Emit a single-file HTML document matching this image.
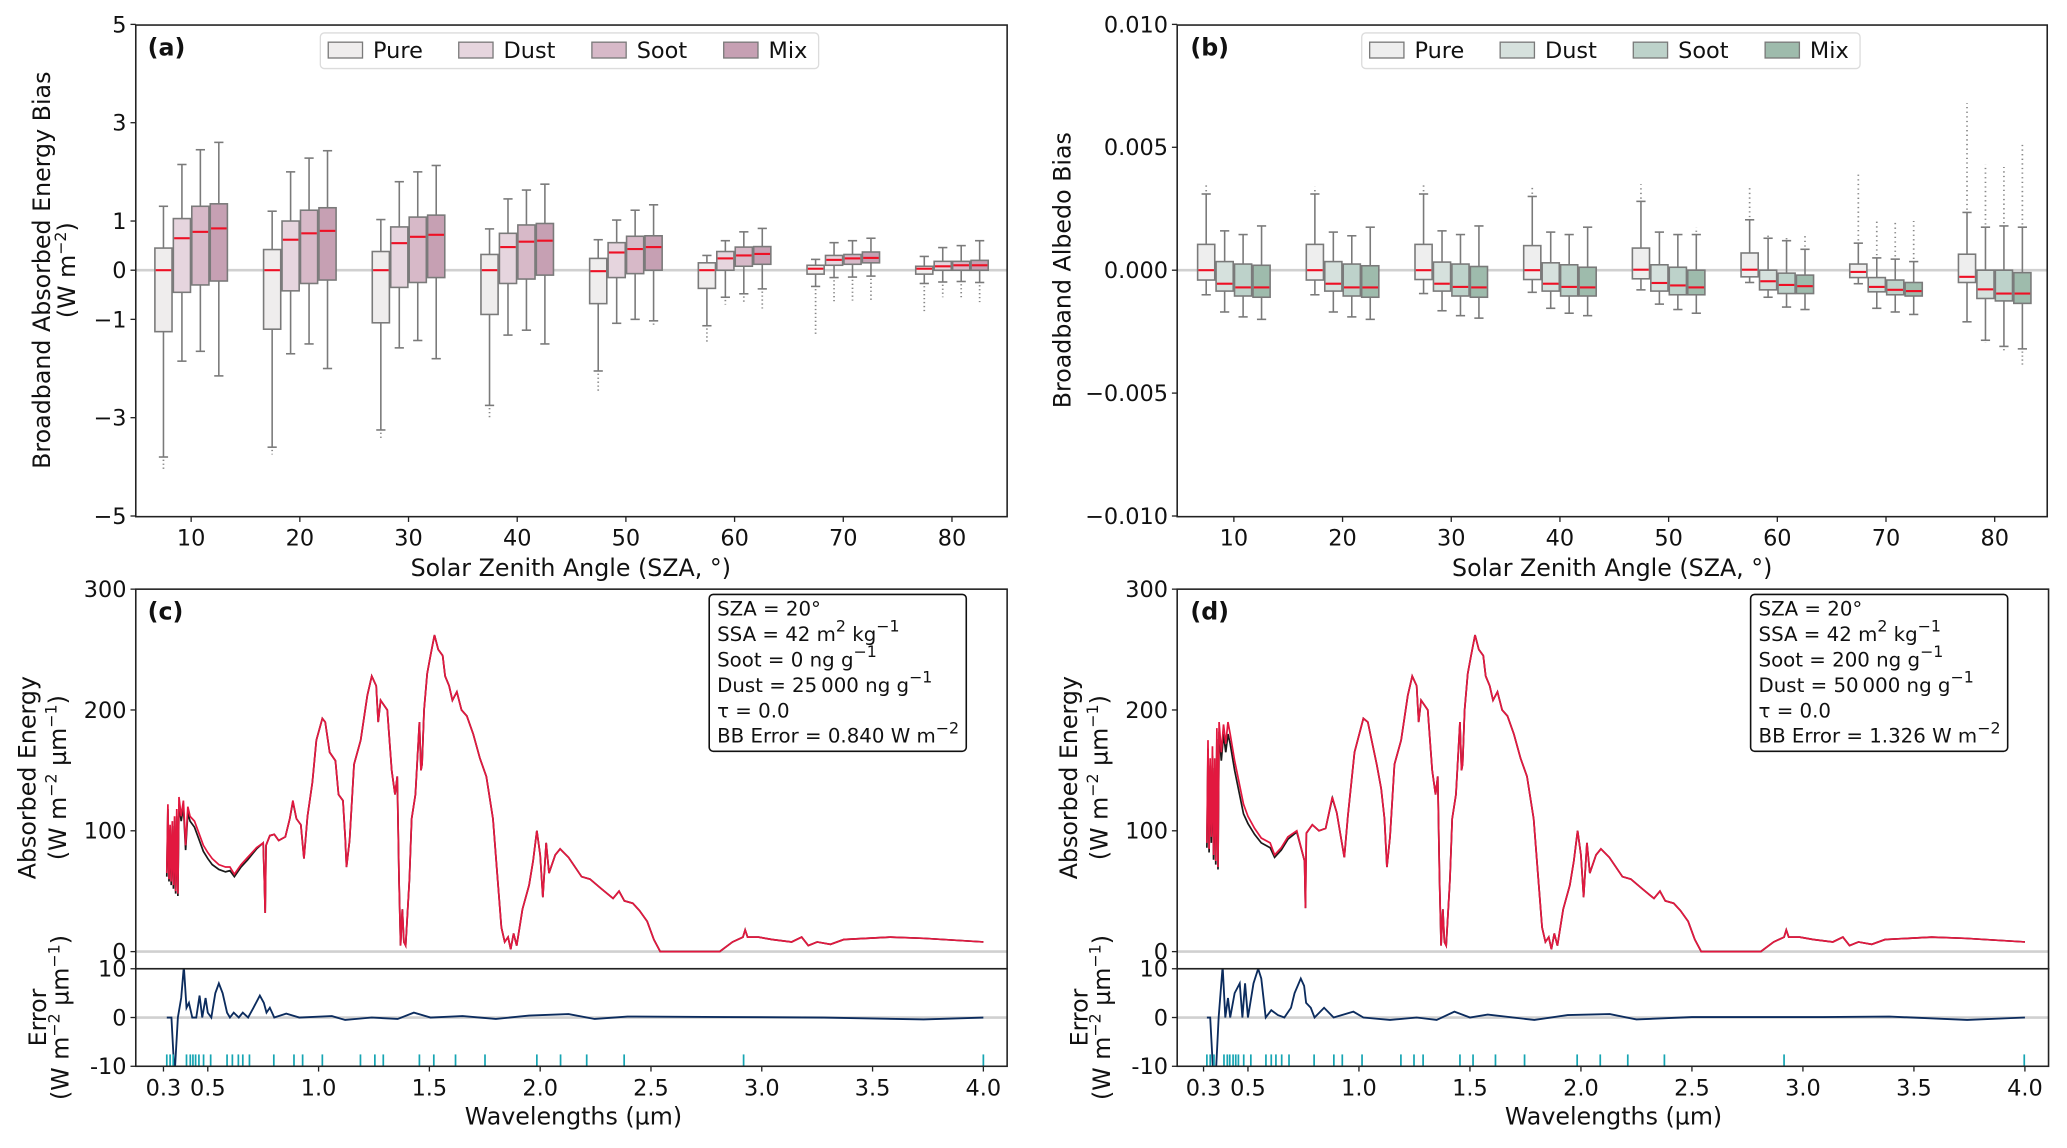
<!DOCTYPE html>
<html><head><meta charset="utf-8"><style>
html,body{margin:0;padding:0;background:#fff;}
svg{display:block;font-family:"DejaVu Sans","Liberation Sans",sans-serif;}
</style></head><body>
<svg id="fig" width="2067" height="1148" viewBox="0 0 1568 871" preserveAspectRatio="none" xmlns="http://www.w3.org/2000/svg">
<rect x="0" y="0" width="1568" height="871" fill="#fff"/>
<defs>
<clipPath id="clipC"><rect x="103" y="735" width="661" height="74"/></clipPath>
<clipPath id="clipD"><rect x="893" y="735" width="660" height="74"/></clipPath>
</defs>
</svg>
<script>
// ---------- Panel (a) data: [whiskerLow, q1, median, q3, whiskerHigh] ----------
const szaCats = [10,20,30,40,50,60,70,80];
const seriesNames = ["Pure","Dust","Soot","Mix"];
const aPure = [[-3.8,-1.25,0,0.45,1.3],[-3.6,-1.2,0,0.42,1.2],[-3.25,-1.07,0,0.38,1.03],[-2.75,-0.9,0,0.32,0.84],[-2.05,-0.68,-0.02,0.24,0.62],[-1.13,-0.37,0,0.15,0.3],[-0.33,-0.08,0.03,0.1,0.22],[-0.27,-0.08,0.03,0.08,0.28]];
const aDust = [[-1.85,-0.45,0.65,1.05,2.15],[-1.7,-0.42,0.62,1.0,2.0],[-1.58,-0.35,0.55,0.88,1.8],[-1.32,-0.27,0.47,0.75,1.45],[-1.08,-0.15,0.36,0.56,1.02],[-0.55,0.0,0.24,0.38,0.6],[-0.15,0.1,0.21,0.3,0.56],[-0.24,0.0,0.08,0.18,0.46]];
const aSoot = [[-1.65,-0.3,0.78,1.3,2.45],[-1.5,-0.27,0.75,1.22,2.28],[-1.43,-0.25,0.68,1.08,2.0],[-1.22,-0.18,0.58,0.92,1.63],[-1.0,-0.07,0.43,0.69,1.22],[-0.48,0.08,0.3,0.47,0.78],[-0.14,0.12,0.24,0.32,0.6],[-0.23,0.0,0.1,0.18,0.5]];
const aMix = [[-2.15,-0.22,0.85,1.35,2.6],[-2.0,-0.2,0.8,1.27,2.43],[-1.8,-0.15,0.72,1.12,2.13],[-1.5,-0.1,0.6,0.95,1.75],[-1.03,0.0,0.47,0.7,1.33],[-0.38,0.12,0.33,0.48,0.85],[-0.12,0.15,0.25,0.37,0.65],[-0.25,0.0,0.1,0.2,0.6]];
const aFlierLo = [[-4.05,null,null,null],[-3.75,null,null,null],[-3.45,null,null,null],[-3.0,null,null,null],[-2.5,null,null,-1.15],[-1.5,-0.7,-0.65,-0.78],[-1.3,-0.65,-0.62,-0.65],[-0.85,-0.55,-0.55,-0.65]];
const aFlierHi = [[null,null,null,null],[null,null,null,null],[null,null,null,null],[null,null,null,null],[null,null,null,null],[null,null,null,null],[null,null,null,null],[null,null,null,null]];
const aTicks = [5,3,1,0,-1,-3,-5];
// ---------- Panel (b) data (units of 1e-3) ----------
const bPure = [[-1.0,-0.4,0,1.05,3.1],[-1.0,-0.4,0,1.05,3.1],[-0.95,-0.38,0,1.05,3.1],[-0.9,-0.38,0,1.0,3.0],[-0.8,-0.35,0.02,0.9,2.8],[-0.5,-0.27,0.02,0.7,2.05],[-0.55,-0.3,-0.07,0.25,1.1],[-2.1,-0.5,-0.27,0.65,2.35]];
const bDust = [[-1.7,-0.85,-0.55,0.35,1.6],[-1.7,-0.85,-0.55,0.35,1.55],[-1.65,-0.85,-0.55,0.33,1.6],[-1.55,-0.85,-0.55,0.3,1.55],[-1.38,-0.85,-0.52,0.22,1.55],[-1.1,-0.8,-0.45,0.0,1.3],[-1.55,-0.88,-0.68,-0.3,0.5],[-2.85,-1.15,-0.78,0.0,1.75]];
const bSoot = [[-1.9,-1.05,-0.7,0.25,1.45],[-1.9,-1.05,-0.7,0.25,1.4],[-1.85,-1.05,-0.68,0.25,1.45],[-1.75,-1.05,-0.68,0.22,1.45],[-1.6,-1.0,-0.62,0.12,1.45],[-1.5,-0.95,-0.6,-0.12,1.2],[-1.7,-1.0,-0.8,-0.4,0.45],[-3.1,-1.25,-0.95,0.0,1.8]];
const bMix = [[-2.0,-1.1,-0.7,0.2,1.8],[-2.0,-1.1,-0.7,0.18,1.75],[-1.95,-1.1,-0.7,0.15,1.8],[-1.85,-1.05,-0.7,0.12,1.75],[-1.75,-1.0,-0.7,0.0,1.45],[-1.6,-0.95,-0.65,-0.2,0.85],[-1.8,-1.05,-0.85,-0.5,0.35],[-3.2,-1.35,-0.95,-0.1,1.75]];
const bFlierLo = [[null,null,null,null],[null,null,null,null],[null,null,null,null],[null,null,null,null],[null,null,null,null],[null,null,null,null],[null,null,null,null],[null,-2.95,-3.35,-3.9]];
const bFlierHi = [[3.45,null,null,null],[3.4,null,null,null],[3.45,null,null,null],[3.45,null,null,null],[3.5,null,null,1.75],[3.35,1.3,1.25,1.5],[3.9,2.0,1.95,2.0],[6.8,4.3,4.2,5.1]];
const bTicks = [0.010,0.005,0.000,-0.005,-0.010];
const bTickLabels = ["0.010","0.005","0.000","\u22120.005","\u22120.010"];
// ---------- Panel (c)/(d) spectra: [wavelength um, W m-2 um-1] ----------
const specTail = [[1.16,155],[1.19,175],[1.22,212],[1.24,228],[1.26,220],[1.269,190],[1.28,208],[1.31,200],[1.33,150],[1.345,130],[1.355,145],[1.363,60],[1.37,5],[1.378,35],[1.385,8],[1.393,5],[1.41,60],[1.42,110],[1.437,130],[1.455,190],[1.462,150],[1.467,155],[1.476,200],[1.49,230],[1.505,245],[1.523,262],[1.54,250],[1.56,245],[1.571,228],[1.589,220],[1.604,208],[1.624,215],[1.645,200],[1.669,195],[1.698,180],[1.728,160],[1.757,145],[1.787,110],[1.808,60],[1.825,20],[1.84,8],[1.855,12],[1.867,2],[1.88,15],[1.894,5],[1.92,35],[1.95,55],[1.968,75],[1.985,100],[2.0,80],[2.012,45],[2.027,90],[2.04,65],[2.068,80],[2.09,85],[2.128,78],[2.187,62],[2.225,60],[2.276,52],[2.329,44],[2.356,50],[2.38,42],[2.418,40],[2.448,34],[2.483,25],[2.513,10],[2.542,0],[2.81,0],[2.868,8],[2.915,12],[2.925,18],[2.936,12],[2.986,12],[3.046,10],[3.135,8],[3.18,12],[3.21,5],[3.25,8],[3.31,6],[3.37,10],[3.58,12],[3.73,11],[4.0,8]];
const redHeadC = [[0.315,65],[0.32,122],[0.325,60],[0.33,105],[0.335,58],[0.34,108],[0.345,55],[0.35,112],[0.355,50],[0.36,118],[0.365,48],[0.37,128],[0.38,112],[0.39,125],[0.40,88],[0.41,120],[0.42,112],[0.44,108],[0.46,98],[0.48,88],[0.50,82],[0.52,77],[0.55,72],[0.58,70],[0.60,70],[0.62,64],[0.65,72],[0.68,78],[0.72,86],[0.75,90],[0.755,60],[0.759,32],[0.763,88],[0.78,96],[0.80,97],[0.82,92],[0.85,95],[0.87,110],[0.884,125],[0.9,110],[0.92,105],[0.934,77],[0.95,112],[0.972,140],[0.99,175],[1.017,193],[1.03,190],[1.05,165],[1.076,158],[1.09,130],[1.11,125],[1.12,95],[1.126,70],[1.14,92]];
const blackHeadC = [[0.315,62],[0.32,118],[0.325,58],[0.33,100],[0.335,55],[0.34,104],[0.345,52],[0.35,108],[0.355,48],[0.36,112],[0.365,46],[0.37,122],[0.38,108],[0.39,120],[0.40,84],[0.41,115],[0.42,108],[0.44,103],[0.46,93],[0.48,83],[0.50,77],[0.52,72],[0.55,68],[0.58,66],[0.60,67],[0.62,62],[0.65,70],[0.68,76],[0.72,85],[0.75,90],[0.755,60],[0.759,32],[0.763,88],[0.78,96],[0.80,97],[0.82,92],[0.85,95],[0.87,110],[0.884,124],[0.9,110],[0.92,105],[0.934,77],[0.95,112],[0.972,140],[0.99,175],[1.017,193],[1.03,190],[1.05,165],[1.076,158],[1.09,130],[1.11,125],[1.12,95],[1.126,70],[1.14,92]];
const redHeadD = [[0.315,90],[0.32,175],[0.325,85],[0.33,160],[0.335,95],[0.34,170],[0.345,80],[0.35,160],[0.355,75],[0.36,185],[0.365,70],[0.37,190],[0.38,165],[0.39,188],[0.40,172],[0.41,190],[0.42,180],[0.44,158],[0.46,140],[0.48,122],[0.50,112],[0.53,102],[0.56,94],[0.60,90],[0.62,80],[0.65,86],[0.68,95],[0.72,100],[0.755,75],[0.759,36],[0.763,98],[0.79,105],[0.82,100],[0.85,102],[0.88,128],[0.9,115],[0.934,78],[0.95,112],[0.98,165],[1.02,193],[1.04,190],[1.08,155],[1.1,135],[1.115,110],[1.126,70],[1.14,95]];
const blackHeadD = [[0.315,86],[0.32,168],[0.325,82],[0.33,154],[0.335,90],[0.34,162],[0.345,76],[0.35,152],[0.355,72],[0.36,176],[0.365,68],[0.37,182],[0.38,158],[0.39,180],[0.40,165],[0.41,180],[0.42,172],[0.44,150],[0.46,132],[0.48,114],[0.50,106],[0.53,97],[0.56,90],[0.60,86],[0.62,78],[0.65,84],[0.68,93],[0.72,99],[0.755,75],[0.759,36],[0.763,98],[0.79,105],[0.82,100],[0.85,102],[0.88,127],[0.9,115],[0.934,78],[0.95,112],[0.98,165],[1.02,193],[1.04,190],[1.08,155],[1.1,135],[1.115,110],[1.126,70],[1.14,95]];
const errC = [[0.315,0],[0.336,0],[0.35,-12],[0.365,0],[0.38,4],[0.392,10.5],[0.404,2],[0.415,3],[0.43,0],[0.448,0],[0.463,4.5],[0.475,0],[0.49,4],[0.5,1],[0.516,0],[0.534,5],[0.55,7],[0.567,5],[0.587,1],[0.6,0],[0.617,1],[0.64,0],[0.658,1],[0.682,0],[0.706,2],[0.735,4.5],[0.753,3],[0.765,1],[0.78,2],[0.8,0],[0.854,0.8],[0.913,0],[1.06,0.3],[1.12,-0.5],[1.24,0],[1.357,-0.3],[1.43,1],[1.505,0],[1.65,0.3],[1.8,-0.3],[1.95,0.4],[2.128,0.7],[2.246,-0.3],[2.394,0.2],[2.84,0.1],[3.28,0],[3.73,-0.4],[4.0,0]];
const errD = [[0.315,0],[0.33,0],[0.344,-12],[0.355,-12],[0.368,0],[0.386,10.5],[0.398,0],[0.41,4],[0.42,0],[0.44,5],[0.463,7],[0.475,0],[0.487,7],[0.5,0],[0.525,7],[0.546,10],[0.56,8],[0.58,0],[0.605,1.5],[0.635,0.5],[0.664,0],[0.694,2],[0.71,5],[0.738,8],[0.753,6.5],[0.762,3],[0.783,2],[0.8,0],[0.843,2],[0.886,0],[0.975,1.2],[1.02,0],[1.14,-0.5],[1.26,0],[1.35,-0.5],[1.43,1.2],[1.5,0],[1.58,0.6],[1.79,-0.5],[1.94,0.5],[2.13,0.7],[2.25,-0.4],[2.5,0.1],[3.09,0.1],[3.39,0.2],[3.74,-0.5],[4.0,0]];
const bandTicksC = [0.315,0.33,0.344,0.404,0.421,0.433,0.445,0.46,0.481,0.513,0.587,0.611,0.638,0.658,0.688,0.798,0.889,0.928,1.017,1.189,1.254,1.292,1.455,1.52,1.618,1.751,1.985,2.092,2.21,2.379,2.918,4.0];
const bandTicksD = [0.315,0.33,0.347,0.392,0.407,0.418,0.433,0.445,0.457,0.481,0.513,0.581,0.605,0.626,0.652,0.685,0.798,0.887,0.925,1.014,1.189,1.248,1.289,1.455,1.514,1.615,1.746,1.983,2.087,2.211,2.376,2.915,3.997];
const wlTicks = [0.3,0.5,1.0,1.5,2.0,2.5,3.0,3.5,4.0];
const wlTickLabels = ["0.3","0.5","1.0","1.5","2.0","2.5","3.0","3.5","4.0"];
const energyTicks = [0,100,200,300];
const errTicks = [10,0,-10];

const NS = "http://www.w3.org/2000/svg";
const svg = document.getElementById("fig");
function mk(tag, attrs, parent){
  const e = document.createElementNS(NS, tag);
  for (const k in attrs) e.setAttribute(k, attrs[k]);
  (parent||svg).appendChild(e);
  return e;
}
function txt(str, attrs, parent){ const t = mk("text", attrs, parent); t.textContent = str; return t; }

// scales
const xA = i => 145 + i*82.45;
const yA = v => 205 - v*37.3;
const xB = i => 936 + i*82.45;
const yB = v => 205 - v*18.65;
const xC = l => 124 + (l-0.3)*168.1;
const xD = l => 913 + (l-0.3)*168.4;
const yE = e => 722 - e*0.9167;
const yErr = e => 772 - e*3.7;

const offs = [-21,-7,7,21];
const colA = ["#efeded","#e6d5de","#d7b9c8","#c6a0b3"];
const colB = ["#eeeeee","#d6e1dd","#bdd2ca","#9ebbac"];

function drawBoxes(panel, xf, yf, sets, flo, fhi, cols){
  const g = mk("g", {});
  
  
  sets.forEach((arr, s) => {
    arr.forEach((st, i) => {
      const cx = xf(i) + offs[s], w = 13;
      const [lo,q1,md,q3,hi] = st;
      const wl = mk("line", {x1:cx,x2:cx,y1:yf(q3),y2:yf(hi),stroke:"#7a7a7a","stroke-width":1.2}, g);
      
      
      const wl2 = mk("line", {x1:cx,x2:cx,y1:yf(q1),y2:yf(lo),stroke:"#7a7a7a","stroke-width":1.2}, g);
      
      
      const c1 = mk("line", {x1:cx-3.5,x2:cx+3.5,y1:yf(hi),y2:yf(hi),stroke:"#7a7a7a","stroke-width":1.2}, g);
      
      
      const c2 = mk("line", {x1:cx-3.5,x2:cx+3.5,y1:yf(lo),y2:yf(lo),stroke:"#7a7a7a","stroke-width":1.2}, g);
      
      
      if (flo[i][s] !== null) {
        const f = mk("line", {x1:cx,x2:cx,y1:yf(lo)+2,y2:yf(flo[i][s]),stroke:"#888","stroke-width":1.3,"stroke-dasharray":"1,2"}, g);
        
        
      }
      if (fhi[i][s] !== null) {
        const f = mk("line", {x1:cx,x2:cx,y1:yf(hi)-2,y2:yf(fhi[i][s]),stroke:"#888","stroke-width":1.3,"stroke-dasharray":"1,2.5"}, g);
        
        
      }
      const r = mk("rect", {x:cx-w/2,y:yf(q3),width:w,height:Math.max(0.5,yf(q1)-yf(q3)),fill:cols[s],stroke:"#7a7a7a","stroke-width":1.2}, g);
      
      
      const m = mk("line", {x1:cx-w/2+0.6,x2:cx+w/2-0.6,y1:yf(md),y2:yf(md),stroke:"#ee1025","stroke-width":1.6}, g);
      
      
    });
  });
}

function frame(panel, x, y, w, h){
  const r = mk("rect", {x:x,y:y,width:w,height:h,fill:"none",stroke:"#222","stroke-width":1.2});
  
  
}
function hzero(panel, x1, x2, y){
  const l = mk("line", {x1:x1,x2:x2,y1:y,y2:y,stroke:"#d0d0d0","stroke-width":2});
  
  
}
function yticks(panel, xAxis, vals, labels, yf, fs){
  vals.forEach((v,k) => {
    const t = mk("line", {x1:xAxis-4,x2:xAxis,y1:yf(v),y2:yf(v),stroke:"#222","stroke-width":1});
    
    
    const lb = txt(labels[k], {x:xAxis-7,y:yf(v)+6,"text-anchor":"end","font-size":fs||17,fill:"#111"});
    
    
  });
}
function xticks(panel, yAxis, vals, labels, xf){
  vals.forEach((v,k) => {
    const t = mk("line", {x1:xf(v),x2:xf(v),y1:yAxis,y2:yAxis+4,stroke:"#222","stroke-width":1});
    
    
    const lb = txt(labels[k], {x:xf(v),y:yAxis+22,"text-anchor":"middle","font-size":17,fill:"#111"});
    
    
  });
}
function legend(panel, x0, cols){
  const g = mk("g", {});
  
  
  const fr = mk("rect", {x:x0,y:25,width:378,height:27,rx:3,fill:"#fff",stroke:"#dcdcdc","stroke-width":1}, g);
  
  
  const px = [6,105,206,306];
  seriesNames.forEach((n,s) => {
    const p = mk("rect", {x:x0+px[s],y:32,width:26,height:12,fill:cols[s],stroke:"#7a7a7a","stroke-width":1}, g);
    
    
    const t = txt(n, {x:x0+px[s]+34,y:44,"font-size":17,fill:"#111"}, g);
    
    
  });
}
function rotLabel(name, str, x, y, fs){
  const t = mk("text", {x:0,y:0,transform:"translate("+x+","+y+") rotate(-90)","text-anchor":"middle","font-size":fs||18,fill:"#111"});
  t.innerHTML = str;
  
  
}
function plain(name, str, attrs){
  const t = mk("text", attrs);
  t.innerHTML = str;
  
  
}
const sup = s => '<tspan font-size="12" dy="-7">'+s+'</tspan><tspan dy="7"> </tspan>';

// ===== Panel (a) =====
hzero("panel-a", 103, 764, yA(0));
drawBoxes("panel-a", xA, yA, [aPure,aDust,aSoot,aMix], aFlierLo, aFlierHi, colA);
frame("panel-a", 103, 19, 661, 373);
yticks("panel-a", 103, aTicks, aTicks.map(v => v<0 ? "\u2212"+(-v) : String(v)), yA);
xticks("panel-a", 392, szaCats.map((c,i)=>i), szaCats.map(String), xA);
legend("panel-a", 243, colA);
plain("panel-a-letter", "(a)", {x:112,y:42,"font-size":18,"font-weight":"bold",fill:"#111"});
rotLabel("panel-a-y-axis-title", "Broadband Absorbed Energy Bias", 38, 205);
rotLabel("panel-a-y-axis-unit", "(W m"+'<tspan font-size="12" dy="-7">\u22122</tspan><tspan dy="7">)</tspan>', 57, 205);
plain("panel-a-x-axis-title", "Solar Zenith Angle (SZA, \u00b0)", {x:433,y:437,"text-anchor":"middle","font-size":18,fill:"#111"});

// ===== Panel (b) =====
hzero("panel-b", 893, 1553, yB(0));
drawBoxes("panel-b", xB, yB, [bPure,bDust,bSoot,bMix], bFlierLo, bFlierHi, colB);
frame("panel-b", 893, 19, 660, 373);
yticks("panel-b", 893, bTicks.map(v=>v*1000), bTickLabels, yB);
xticks("panel-b", 392, szaCats.map((c,i)=>i), szaCats.map(String), xB);
legend("panel-b", 1033, colB);
plain("panel-b-letter", "(b)", {x:903,y:42,"font-size":18,"font-weight":"bold",fill:"#111"});
rotLabel("panel-b-y-axis-title", "Broadband Albedo Bias", 812, 205);
plain("panel-b-x-axis-title", "Solar Zenith Angle (SZA, \u00b0)", {x:1223,y:437,"text-anchor":"middle","font-size":18,fill:"#111"});

// ===== Spectrum panels =====
function path(pts, xf, yf){ return pts.map((p,k)=>(k?"L":"M")+xf(p[0]).toFixed(2)+","+yf(p[1]).toFixed(2)).join(""); }
function spectrumPanel(panel, left, xf, blackHead, redHead, err, bands, clip, info){
  hzero(panel, left, left+661, yE(0));
  hzero(panel+"-error", left, left+661, yErr(0));
  const pb = mk("path", {d:path(blackHead.concat(specTail), xf, yE),fill:"none",stroke:"#1a1a1a","stroke-width":1.3});
  
  
  const pr = mk("path", {d:path(redHead.concat(specTail), xf, yE),fill:"none",stroke:"#e2183f","stroke-width":1.3});
  
  
  const pe = mk("path", {d:path(err, xf, yErr),fill:"none",stroke:"#0c2c5e","stroke-width":1.4,"clip-path":"url(#"+clip+")"});
  
  
  bands.forEach(b => {
    const t = mk("line", {x1:xf(b),x2:xf(b),y1:800,y2:809,stroke:"#17a5b3","stroke-width":1.3});
    
    
  });
  frame(panel, left, 447, 661, 288);
  frame(panel+"-error", left, 735, 661, 74);
  yticks(panel, left, energyTicks, energyTicks.map(String), yE);
  yticks(panel+"-error", left, errTicks, errTicks.map(String), yErr);
  xticks(panel, 809, wlTicks, wlTickLabels, xf);
  // info box
  const bx = left + 435;
  const r = mk("rect", {x:bx,y:451,width:195,height:119,rx:3,fill:"#fff",stroke:"#111","stroke-width":1.2});
  
  
  info.forEach((ln,k) => plain(panel+'-info-line', ln, {x:bx+6,y:467+k*19.3,"font-size":15,fill:"#111"}));
}
spectrumPanel("panel-c", 103, xC, blackHeadC, redHeadC, errC, bandTicksC, "clipC",
  ["SZA = 20\u00b0", "SSA = 42 m"+sup("2")+"kg"+'<tspan font-size="12" dy="-7">\u22121</tspan>', "Soot = 0 ng g"+'<tspan font-size="12" dy="-7">\u22121</tspan>', "Dust = 25\u2009000 ng g"+'<tspan font-size="12" dy="-7">\u22121</tspan>', "\u03c4 = 0.0", "BB Error  = 0.840 W m"+'<tspan font-size="12" dy="-7">\u22122</tspan>']);
spectrumPanel("panel-d", 893, xD, blackHeadD, redHeadD, errD, bandTicksD, "clipD",
  ["SZA = 20\u00b0", "SSA = 42 m"+sup("2")+"kg"+'<tspan font-size="12" dy="-7">\u22121</tspan>', "Soot = 200 ng g"+'<tspan font-size="12" dy="-7">\u22121</tspan>', "Dust = 50\u2009000 ng g"+'<tspan font-size="12" dy="-7">\u22121</tspan>', "\u03c4 = 0.0", "BB Error  = 1.326 W m"+'<tspan font-size="12" dy="-7">\u22122</tspan>']);

plain("panel-c-letter", "(c)", {x:112,y:470,"font-size":18,"font-weight":"bold",fill:"#111"});
plain("panel-d-letter", "(d)", {x:903,y:470,"font-size":18,"font-weight":"bold",fill:"#111"});
const uE = '(W m<tspan font-size="12" dy="-7">\u22122</tspan><tspan dy="7">  \u00b5m</tspan><tspan font-size="12" dy="-7">\u22121</tspan><tspan dy="7">)</tspan>';
rotLabel("panel-c-y-axis-title", "Absorbed Energy", 27, 590);
rotLabel("panel-c-y-axis-unit", uE, 50, 590);
rotLabel("panel-c-error-y-title", "Error", 35, 772);
rotLabel("panel-c-error-y-unit", uE, 52, 772);
rotLabel("panel-d-y-axis-title", "Absorbed Energy", 817, 590);
rotLabel("panel-d-y-axis-unit", uE, 840, 590);
rotLabel("panel-d-error-y-title", "Error", 825, 772);
rotLabel("panel-d-error-y-unit", uE, 842, 772);
plain("panel-c-x-axis-title", "Wavelengths (\u00b5m)", {x:435,y:853,"text-anchor":"middle","font-size":18,fill:"#111"});
plain("panel-d-x-axis-title", "Wavelengths (\u00b5m)", {x:1224,y:853,"text-anchor":"middle","font-size":18,fill:"#111"});
</script>
</body></html>
